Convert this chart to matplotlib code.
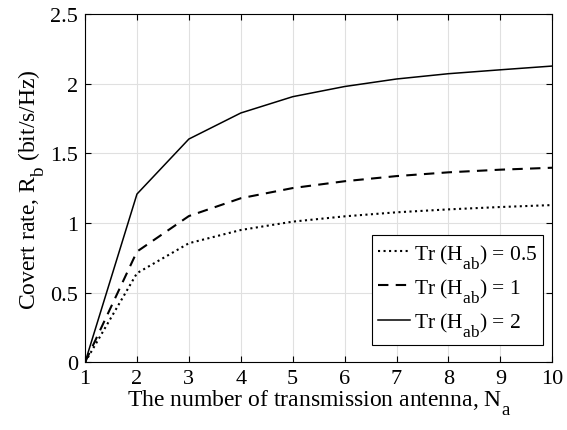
import matplotlib
matplotlib.use("Agg")
import matplotlib.pyplot as plt
import matplotlib._mathtext as mt

N = [1, 2, 3, 4, 5, 6, 7, 8, 9, 10]
rate_05 = [0, 0.64, 0.855, 0.95, 1.01, 1.048, 1.077, 1.098, 1.115, 1.129]
rate_1 = [0, 0.795, 1.05, 1.178, 1.251, 1.30, 1.337, 1.364, 1.383, 1.397]
rate_2 = [0, 1.208, 1.603, 1.79, 1.907, 1.98, 2.034, 2.072, 2.10, 2.127]
labels = [r"Tr (H$\mathregular{_{ab}}$) = 0.5", r"Tr (H$\mathregular{_{ab}}$) = 1", r"Tr (H$\mathregular{_{ab}}$) = 2"]

# larger, lower subscripts (MATLAB-like)
mt.SHRINK_FACTOR = 0.8
mt.FontConstantsBase.sub1 = 0.9
mt.FontConstantsBase.sub2 = 0.9

plt.rcParams['font.family'] = ['Liberation Serif', 'DejaVu Serif']
plt.rcParams['mathtext.fontset'] = 'custom'
plt.rcParams['mathtext.rm'] = 'Liberation Serif'
plt.rcParams['mathtext.it'] = 'Liberation Serif:italic'
plt.rcParams['font.size'] = 16

fig = plt.figure(figsize=(5.67, 4.31), dpi=100)
ax = fig.add_axes([0.150, 0.157, 0.824, 0.808])
ax.plot(N, rate_05, color='black', linestyle=':', linewidth=1.5, label=labels[0])
ax.plot(N, rate_1, color='black', linestyle=(0, (5, 3.5)), linewidth=1.5, label=labels[1])
ax.plot(N, rate_2, color='black', linestyle='-', linewidth=1.1, label=labels[2])

ax.set_xlim(1, 10)
ax.set_ylim(0, 2.5)
ax.set_xticks(range(1, 11))
ax.set_yticks([0, 0.5, 1, 1.5, 2, 2.5])
ax.set_yticklabels(['0', '0.5', '1', '1.5', '2', '2.5'])
ax.grid(True, color='#e0e0e0', linewidth=0.8)
ax.set_axisbelow(True)
ax.tick_params(direction='in', top=True, right=True, length=4, labelsize=16, pad=5)
for s in ax.spines.values():
    s.set_linewidth(0.8)
ax.set_xlabel(r"The number of transmission antenna, N$\mathregular{_{a}}$", fontsize=17, labelpad=-1)
ax.set_ylabel(r"Covert rate, R$\mathregular{_{b}}$ (bit/s/Hz)", fontsize=17, labelpad=2)
leg = ax.legend(loc='lower right', bbox_to_anchor=(0.981, 0.05), frameon=True, fancybox=False,
                edgecolor='black', framealpha=1, fontsize=15.5, handlelength=1.5,
                handletextpad=0.15, borderpad=0.3, labelspacing=0.3, borderaxespad=0)
leg.get_frame().set_linewidth(0.8)
fig.savefig("out.png", dpi=100)
